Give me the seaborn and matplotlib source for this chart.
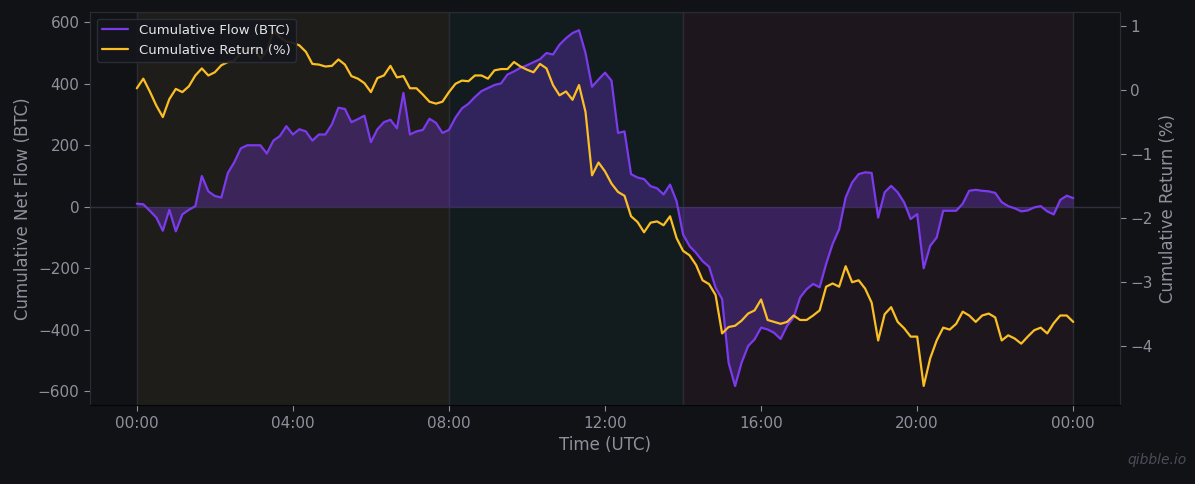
import numpy as np
import pandas as pd
import matplotlib
matplotlib.use("Agg")
import matplotlib.pyplot as plt
import matplotlib.dates as mdates
import seaborn as sns

# 10-minute samples over one UTC day
times = pd.date_range("2024-01-01 00:00", "2024-01-02 00:00", freq="10min")

cum_flow = [
    10, 8, -13, -35, -78, -10,
    -80, -25, -10, 2, 100, 50,
    35, 30, 110, 145, 190, 200,
    200, 200, 173, 215, 230, 262,
    235, 252, 245, 215, 235, 235,
    268, 322, 318, 275, 285, 296,
    210, 252, 275, 283, 255, 370,
    235, 245, 250, 286, 273, 240,
    250, 290, 320, 335, 357, 376,
    386, 396, 401, 430, 440, 452,
    460, 470, 480, 500, 495, 527,
    548, 565, 574, 500, 390, 414,
    436, 410, 240, 245, 106, 95,
    90, 67, 60, 40, 72, 18,
    -90, -128, -150, -177, -195, -263,
    -300, -507, -583, -507, -453, -431,
    -393, -399, -410, -430, -387, -360,
    -295, -268, -251, -262, -186, -121,
    -73, 30, 79, 106, 112, 110,
    -35, 47, 68, 47, 14, -40,
    -24, -200, -127, -100, -13, -13,
    -13, 10, 52, 55, 52, 50,
    45, 15, 2, -5, -15, -12,
    -2, 2, -15, -25, 22, 36,
    28,
]

cum_return = [
    0.03, 0.18, -0.02, -0.24, -0.42, -0.14,
    0.02, -0.03, 0.06, 0.23, 0.34, 0.23,
    0.28, 0.39, 0.44, 0.46, 0.59, 0.66,
    0.66, 0.49, 0.62, 0.92, 0.83, 0.76,
    0.74, 0.70, 0.60, 0.41, 0.40, 0.37,
    0.38, 0.48, 0.40, 0.22, 0.18, 0.11,
    -0.03, 0.19, 0.23, 0.38, 0.20, 0.22,
    0.03, 0.03, -0.07, -0.18, -0.21, -0.18,
    -0.03, 0.10, 0.15, 0.14, 0.23, 0.23,
    0.18, 0.31, 0.33, 0.33, 0.44, 0.37,
    0.32, 0.28, 0.41, 0.34, 0.08, -0.08,
    -0.02, -0.15, 0.08, -0.34, -1.33, -1.13,
    -1.27, -1.46, -1.59, -1.65, -1.97, -2.06,
    -2.22, -2.07, -2.05, -2.11, -1.97, -2.31,
    -2.51, -2.58, -2.73, -2.97, -3.03, -3.20,
    -3.80, -3.70, -3.68, -3.60, -3.49, -3.44,
    -3.27, -3.59, -3.62, -3.65, -3.62, -3.52,
    -3.59, -3.59, -3.52, -3.44, -3.07, -3.02,
    -3.07, -2.75, -3.00, -2.97, -3.10, -3.32,
    -3.91, -3.50, -3.39, -3.62, -3.72, -3.85,
    -3.85, -4.62, -4.19, -3.91, -3.71, -3.74,
    -3.65, -3.46, -3.52, -3.62, -3.52, -3.49,
    -3.55, -3.91, -3.83, -3.88, -3.96, -3.85,
    -3.75, -3.71, -3.80, -3.64, -3.52, -3.52,
    -3.62,
]

# trading sessions (start, end, shade)
sessions = [
    ("2024-01-01 00:00", "2024-01-01 08:00", "#1f1d1a"),
    ("2024-01-01 08:00", "2024-01-01 14:00", "#121b1e"),
    ("2024-01-01 14:00", "2024-01-02 00:00", "#1d171d"),
]

df = pd.DataFrame({"time": times, "flow": cum_flow, "ret": cum_return})

BG = "#111216"
TXT = "#8e919b"
PURPLE = "#7c3aed"
AMBER = "#fbbf24"

sns.set_style("dark", {
    "axes.facecolor": BG,
    "figure.facecolor": BG,
    "axes.edgecolor": "#2a2c34",
    "xtick.color": TXT,
    "ytick.color": TXT,
    "axes.labelcolor": TXT,
    "xtick.bottom": True,
    "ytick.left": True,
    "ytick.right": True,
})
plt.rcParams["font.family"] = ["DejaVu Sans"]

fig = plt.figure(figsize=(11.95, 4.84), dpi=100)
ax = fig.add_axes([0.0753, 0.163, 0.862, 0.812])

for start, end, shade in sessions:
    ax.axvspan(pd.Timestamp(start), pd.Timestamp(end), facecolor=shade,
               edgecolor="#2b2c30", linewidth=1.0, zorder=0)

ax.axhline(0, color="#30303f", linewidth=1.0, zorder=1)
ax.fill_between(df["time"], df["flow"], 0, color=PURPLE, alpha=0.3,
                linewidth=0, zorder=2)
sns.lineplot(data=df, x="time", y="flow", ax=ax, color=PURPLE,
             linewidth=1.6, label="Cumulative Flow (BTC)", zorder=3)

ax2 = ax.twinx()
sns.lineplot(data=df, x="time", y="ret", ax=ax2, color=AMBER,
             linewidth=1.6, label="Cumulative Return (%)", zorder=3)

ax.set_ylim(-645, 633)
ax2.set_ylim(-4.92, 1.22)
ax.set_yticks([-600, -400, -200, 0, 200, 400, 600])
ax2.set_yticks([-4, -3, -2, -1, 0, 1])

ax.xaxis.set_major_locator(mdates.HourLocator(byhour=[0, 4, 8, 12, 16, 20]))
ax.xaxis.set_major_formatter(mdates.DateFormatter("%H:%M"))

ax.set_xlabel("Time (UTC)", fontsize=12, color=TXT)
ax.set_ylabel("Cumulative Net Flow (BTC)", fontsize=12, color=TXT)
ax2.set_ylabel("Cumulative Return (%)", fontsize=12, color=TXT)

for a in (ax, ax2):
    a.tick_params(labelsize=11, length=4, width=0.8, colors=TXT)
    for side in a.spines.values():
        side.set_color("#2a2c34")
ax.spines["bottom"].set_color("#050507")
ax2.spines["bottom"].set_color("#050507")
ax2.tick_params(axis="y", left=False)
ax.tick_params(axis="y", right=False)

# combined legend, drawn on the top axes so it sits above both lines
h1, l1 = ax.get_legend_handles_labels()
h2, l2 = ax2.get_legend_handles_labels()
ax.get_legend().remove()
ax2.get_legend().remove()
ax2.legend(h1 + h2, l1 + l2, loc="upper left", fontsize=9.5,
           facecolor="#15161c", edgecolor="#2c2e3a", labelcolor="#e6e6ea",
           framealpha=0.92, borderpad=0.4, handlelength=2.0)

fig.text(0.993, 0.035, "qibble.io", ha="right", va="bottom", fontsize=10,
         style="italic", color="#4a4d57")

fig.savefig("out.png", dpi=100, facecolor=BG)
